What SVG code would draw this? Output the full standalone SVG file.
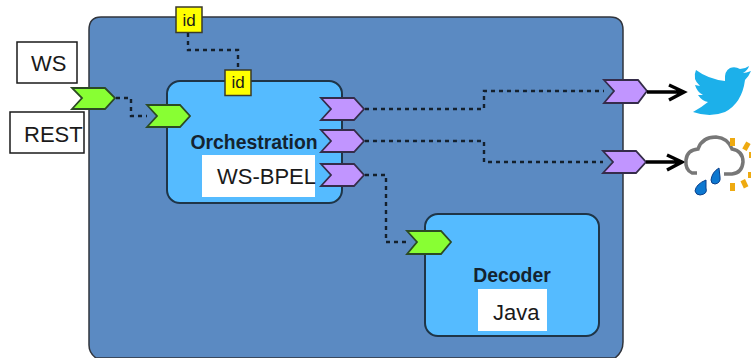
<svg xmlns="http://www.w3.org/2000/svg" width="751" height="358" viewBox="0 0 751 358">
<style>
text{font-family:"Liberation Sans",Arial,sans-serif;fill:#1a1a1a}
.comp{fill:#55bbff;stroke:#1f3547;stroke-width:2}
.lbl{font-weight:bold;font-size:19.4px;fill:#14232f;text-anchor:middle}
.box{fill:#fff;stroke:#1a1a1a;stroke-width:1.5}
.wh{fill:#fff}
.t{font-size:22px}
.id{fill:#ffff00;stroke:#3a3a2a;stroke-width:1.5}
.idt{font-size:17px;text-anchor:middle}
.g{fill:#88ff33;stroke:#2c4a24;stroke-width:1.8}
.p{fill:#c195ff;stroke:#352c4a;stroke-width:1.8}
.dot{fill:none;stroke:#14202c;stroke-width:2.4;stroke-dasharray:4 4}
.arr{fill:none;stroke:#000;stroke-width:3.4}
</style>
<g id="container"><path d="M101 17H610Q623 17 623 30V342Q623 352 615 358H96Q89 353 89 345V30Q89 17 101 17Z" fill="#5b8ac2" stroke="#30343c" stroke-width="1.5"/></g>
<g id="orchestration"><rect class="comp" x="167" y="81" width="175" height="122" rx="13"/>
<text class="lbl" x="254" y="149">Orchestration</text>
<rect class="wh" x="202" y="155" width="113" height="42"/>
<text class="t" x="217" y="184">WS-BPEL</text></g>
<g id="decoder"><rect class="comp" x="425" y="214" width="174" height="122" rx="13"/>
<text class="lbl" x="512" y="282">Decoder</text>
<rect class="wh" x="478" y="289" width="69" height="42"/>
<text class="t" x="493" y="320">Java</text></g>
<g id="ws"><rect class="box" x="17" y="42" width="60" height="41"/><text class="t" x="31" y="71">WS</text></g>
<g id="rest"><rect class="box" x="10" y="112" width="74" height="41"/><text class="t" x="24" y="142">REST</text></g>
<g id="id-top"><rect class="id" x="176" y="7" width="26" height="25.500"/><text class="idt" x="189" y="26">id</text></g>
<g id="id-orch"><rect class="id" x="225" y="70" width="26" height="25.500"/><text class="idt" x="238" y="88">id</text></g>
<g id="port-in-outer"><polygon class="g" points="72,88 105,88 115,98 105,109 72,109 82,98"/></g>
<g id="port-in-orch"><polygon class="g" points="147,105 180,105 190,116 180,127 147,127 157,116"/></g>
<g id="port-in-decoder"><polygon class="g" points="407,231 441,231 451,242 441,254 407,254 417,242"/></g>
<g id="port-out-1"><polygon class="p" points="321,98 354,98 364,109 354,120 321,120 331,109"/></g>
<g id="port-out-2"><polygon class="p" points="321,130 354,130 364,141 354,152 321,152 331,141"/></g>
<g id="port-out-3"><polygon class="p" points="321,164 354,164 364,175 354,186 321,186 331,175"/></g>
<g id="port-ext-1"><polygon class="p" points="604,80 638,80 647,91 638,103 604,103 614,91"/></g>
<g id="port-ext-2"><polygon class="p" points="603,151 636,151 646,162 636,173 603,173 613,162"/></g>
<g id="connectors">
<path class="dot" d="M116 98H131V116H147"/>
<path class="dot" d="M188 33V50H238V70"/>
<path class="dot" d="M365 109H484V91H604"/>
<path class="dot" d="M365 141H484V162H603"/>
<path class="dot" d="M365 175H386V242H407"/>
<path class="arr" d="M647 92H683M669 85L684 92L669 100"/>
<path class="arr" d="M646 162H681M667 155L682 162L667 170"/>
</g>
<g id="twitter"><path d="M751 71Q746 73 743 73Q748 70 749 66Q745 69 740 69Q735 66 730 68Q724 71 725 81Q708 79 696 70Q692 79 700 86L695 85Q697 92 703 95L698 95Q702 101 708 102Q702 107 693 112Q710 118 725 112Q742 103 745 80Q749 76 751 71Z" fill="#1cb0ea"/></g>
<g id="weather">
<path d="M697 173H692Q685 170 686 160Q687 150 698 149Q702 137 716 137Q728 138 732 149Q743 151 743 162Q742 173 732 174H724" fill="#fff" stroke="#777" stroke-width="3.500"/>
<path d="M719 168Q712 172 711 180Q711 184 715 184Q721 183 720 177Z" fill="#0d78d0" stroke="#0a3f8a"/>
<path d="M706 180Q696 184 695 191Q696 195 700 195Q708 194 706 188Z" fill="#0d78d0" stroke="#0a3f8a"/>
<g fill="#eeaa11"><rect x="730" y="138" width="5" height="8"/><rect x="744" y="142" width="5" height="8" transform="rotate(30 746 146)"/><rect x="730" y="183" width="5" height="8"/><rect x="742" y="180" width="5" height="8" transform="rotate(-25 744 184)"/><rect x="748" y="172" width="3" height="6"/><rect x="749" y="152" width="2" height="6"/></g>
</g>
</svg>
